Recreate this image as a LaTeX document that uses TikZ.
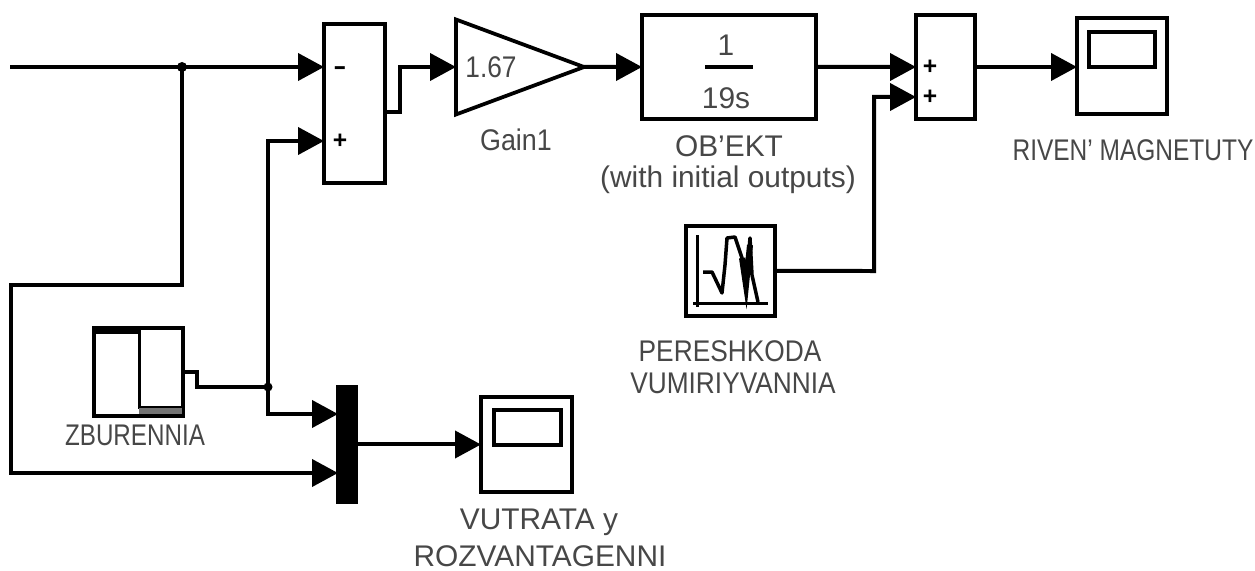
\documentclass[tikz,border=0pt]{standalone}
\usepackage{fontspec}
\setmainfont{Liberation Sans}
\usepackage{tikz}
\usetikzlibrary{arrows.meta,positioning,shapes.geometric}

\begin{document}
\begin{tikzpicture}[
  x=0.02cm, y=-0.02cm,
  blockbox/.style={rectangle, draw, line width=0.075cm, inner sep=0pt, outer sep=0pt, anchor=north west},
  wire/.style={line width=0.08cm},
  arrowwire/.style={wire, -{Stealth[inset=0pt, length=0.52cm, width=0.54cm]}},
  caption/.style={text=black!72, font=\fontsize{17}{20}\selectfont, inner sep=0pt},
  sign/.style={font=\bfseries\fontsize{14}{14}\selectfont, inner sep=0pt}
]
\useasboundingbox (0,0) rectangle (1255,571);

% blocks top row
\node[blockbox, minimum width=1.22cm, minimum height=3.18cm] (sumA) at (324,24) {};
\node[draw, line width=0.075cm, isosceles triangle, isosceles triangle stretches, minimum width=1.9cm, minimum height=2.56cm, inner sep=0pt, outer sep=0pt, anchor=lower side] (gain) at (456,67) {};
\node[blockbox, minimum width=3.48cm, minimum height=2.08cm] (obekt) at (642,15) {};
\node[blockbox, minimum width=1.18cm, minimum height=2.08cm] (sumB) at (916,15) {};
\node[blockbox, minimum width=1.8cm, minimum height=1.92cm] (scopeA) at (1077,18) {};
\node[blockbox, minimum width=1.32cm, minimum height=0.7cm] (screenA) at (1089,32) {};

% blocks bottom
\node[blockbox, minimum width=1.78cm, minimum height=1.8cm] (noise) at (686,226) {};
\node[blockbox, minimum width=1.78cm, minimum height=1.76cm] (step) at (94,328) {};
\node[blockbox, fill=black, minimum width=0.36cm, minimum height=2.3cm] (mux) at (338,387) {};
\node[blockbox, minimum width=1.82cm, minimum height=1.9cm] (scopeB) at (481,397) {};
\node[blockbox, minimum width=1.34cm, minimum height=0.7cm] (screenB) at (494,410) {};

% ports
\coordinate (start) at (10,67);
\coordinate (branchA) at (182,67);
\coordinate (branchB) at (268,387);
\coordinate (sumAminus) at (324,67);
\coordinate (sumAplus) at (324,141);
\coordinate (sumAout) at (385,112);
\coordinate (sumBtop) at (916,67);
\coordinate (sumBlow) at (916,97);
\coordinate (muxtop) at (338,414);
\coordinate (muxlow) at (338,473);

% wave pictures
\draw[line width=0.13cm] (96,331) -- (139,331);
\draw[line width=0.06cm] (139,330) -- (139,407) -- (181,407);
\fill[black!55] (139,408) rectangle (182,414);
\draw[line width=0.06cm] (697,235) -- (697,307);
\draw[line width=0.06cm] (693,303) -- (768,303);
\draw[line width=0.07cm, line join=round] (703,272) -- (712,272) -- (722,293) -- (725,265) -- (727,238) -- (735,237) -- (742,258) -- (746,285) -- (750,238) -- (752,275) -- (758,302);
\draw[line width=0.12cm] (742,258) -- (746,285) -- (750,245);

% text inside
\node[sign] (minus) at (340,71) {\scalebox{1.6}[1]{-}};
\node[sign] (plus) at (340,141) {+};
\node[sign] (plusA) at (930,67) {+};
\node[sign] (plusB) at (930,97) {+};
\node[caption] (gainval) at (491,67) {\scalebox{.88}[1]{1.67}};
\node[caption] (num) at (726,45) {1};
\node[caption] (den) at (726,98) {19s};
\draw[line width=0.08cm] (705,67) -- (753,67);

% labels
\node[caption] (gainlabel) at (516,140) {\scalebox{.9}[1]{Gain1}};
\node[caption] (obektlabel) at (729,146) {OB’EKT};
\node[caption] (obektnote) at (728,180) {(with initial outputs)};
\node[caption] (rivenlabel) at (1133,150) {\scalebox{.82}[1]{RIVEN' MAGNETUTY}};
\node[caption] (noiselabelA) at (730,351) {\scalebox{.88}[1]{PERESHKODA}};
\node[caption] (noiselabelB) at (733,383) {\scalebox{.88}[1]{VUMIRIYVANNIA}};
\node[caption] (steplabel) at (135,435) {\scalebox{.81}[1]{ZBURENNIA}};
\node[caption] (scopelabelA) at (539,522) {VUTRATA y};
\node[caption] (scopelabelB) at (540,556) {ROZVANTAGENNI};

% connectors
\draw[arrowwire] (start) -- (sumAminus);
\fill (branchA) circle (0.1cm);
\fill (branchB) circle (0.09cm);
\draw[arrowwire] (branchA) -- (182,285) -- (11,285) -- (11,473) -- (muxlow);
\draw[wire] (step.east) -| (197,387) -- (branchB);
\draw[arrowwire] (branchB) |- (sumAplus);
\draw[arrowwire] (branchB) |- (muxtop);
\draw[arrowwire] (sumAout) -- (400,112) -- (400,67) -- (gain.lower side);
\draw[arrowwire] (gain.apex) -- (obekt.west);
\draw[arrowwire] (obekt.east) -- (sumBtop);
\draw[arrowwire] (noise.east) -- (874,271) -- (874,97) -- (sumBlow);
\draw[arrowwire] (sumB.east) -- (sumB.east -| scopeA.west);
\draw[arrowwire] (mux.east |- scopeB.west) -- (scopeB.west);

\end{tikzpicture}
\end{document}
